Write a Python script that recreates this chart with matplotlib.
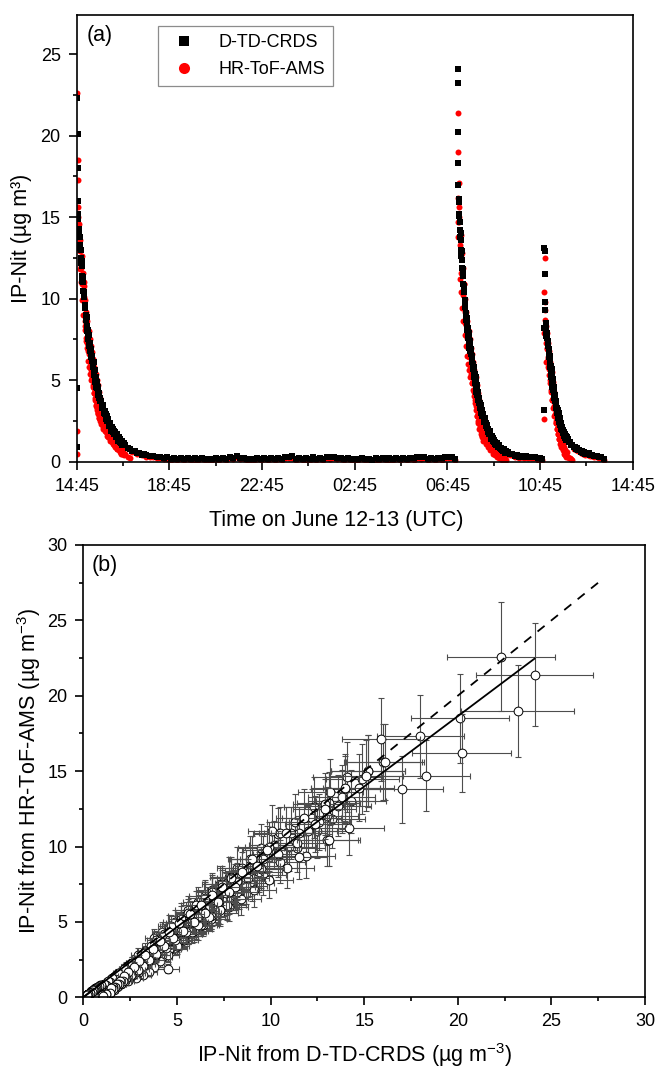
import numpy as np
import matplotlib
matplotlib.use('Agg')
import matplotlib.pyplot as plt
from matplotlib.ticker import MultipleLocator, FixedLocator, FixedFormatter
from matplotlib.lines import Line2D

plt.rcParams['font.family'] = ['Liberation Sans', 'DejaVu Sans']
plt.rcParams['mathtext.fontset'] = 'custom'
plt.rcParams['mathtext.rm'] = 'Liberation Sans'
plt.rcParams['mathtext.it'] = 'Liberation Sans:italic'
plt.rcParams['mathtext.bf'] = 'Liberation Sans:bold'

# ---------------- DATA ----------------
# time axis: hours after 14:45 UTC (June 12)
time_tick_pos = [0, 4, 8, 12, 16, 20, 24]
time_tick_labels = ["14:45", "18:45", "22:45", "02:45", "06:45", "10:45", "14:45"]

# peak 1 (starts 14:45)
p1_head_t = [0.000, 0.015, 0.030, 0.040, 0.050, 0.060, 0.068]
p1_head_crds = [0.9, 4.5, 22.3, 20.1, 18.0, 16.0, 15.2]
p1_head_ams = [0.5, 1.9, 22.6, 18.5, 17.3, 15.6, 15.0]

p1a_grid = (0.075, 0.025)
p1a_crds = [14.9, 14.0, 13.8, 13.1, 13.0, 12.2, 12.0, 11.1, 11.0, 10.2,
            10.1, 9.4, 9.5, 8.7, 8.9, 8.0, 8.1, 7.5, 7.8, 7.1,
            7.2, 6.6, 6.9, 6.2, 6.4, 5.8, 6.1, 5.3, 5.6, 4.9,
            5.1, 4.6, 4.9, 4.3, 4.5, 3.9, 4.2, 3.7]
p1a_ams = [14.5, 13.8, 13.0, 12.9, 12.0, 11.9, 11.0, 10.9, 10.0, 10.1,
           11.0, 8.3, 8.6, 7.4, 8.0, 7.3, 7.2, 6.8, 6.6, 6.2,
           6.1, 5.7, 5.6, 5.2, 5.1, 4.7, 4.5, 4.2, 4.2, 3.8,
           3.7, 3.4, 3.3, 3.0, 3.0, 2.7, 2.7, 2.5]
p1a_mid_grid = (0.0875, 0.025)
p1a_mid_crds = [14.3, 14.1, 13.3, 13.2, 12.5, 12.3, 11.4, 11.3, 10.5, 10.4,
                9.6, 9.5, 9.0, 8.9, 8.3, 8.2, 7.7, 7.8, 7.2, 7.3,
                6.8, 6.9, 6.4, 6.5, 6.0, 6.1, 5.6, 5.6, 5.1, 5.2,
                4.7, 4.9, 4.5, 4.6, 4.1, 4.2, 3.9, 3.8]
p1a_mid_ams = [13.0, 14.6, 11.8, 13.6, 11.0, 12.6, 9.9, 11.6, 9.0, 10.8,
               8.1, 9.9, 7.6, 9.2, 7.0, 8.6, 6.2, 8.0, 5.8, 7.5,
               5.4, 7.1, 5.0, 6.7, 4.6, 6.3, 4.2, 5.8, 3.9, 5.4,
               3.5, 5.0, 3.2, 4.7, 2.9, 4.3, 2.6, 3.9]

p1b_grid = (1.05, 0.05)
p1b_crds = [3.7, 3.3, 3.3, 2.9, 2.9, 2.5, 2.6, 2.2, 2.2, 1.9,
            2.0, 1.7, 1.8, 1.5, 1.6, 1.3, 1.4, 1.15, 1.25, 1.0]
p1b_ams = [2.3, 2.6, 2.0, 2.4, 1.8, 2.1, 1.5, 1.9, 1.3, 1.5,
           1.1, 1.4, 0.9, 1.2, 0.8, 1.0, 0.6, 0.9, 0.5, 0.7]
p1b_mid_grid = (1.075, 0.05)
p1b_mid_crds = [3.4, 3.5, 3.0, 3.1, 2.6, 2.8, 2.3, 2.4, 2.0, 2.1,
                1.8, 1.9, 1.6, 1.7, 1.4, 1.5, 1.2, 1.3, 1.05, 1.15]
p1b_mid_ams = [2.9, 2.1, 2.6, 1.9, 2.3, 1.6, 2.0, 1.4, 1.7, 1.2,
               1.5, 1.0, 1.3, 0.8, 1.1, 0.7, 0.9, 0.5, 0.8, 0.4]

p1c_grid = (2.1, 0.1)
p1c_crds = [1.0, 0.82, 0.8, 0.64, 0.66, 0.52, 0.55, 0.42, 0.46]
p1c_ams = [0.45, 0.3, 0.2, 0.61, 0.62, 0.49, 0.52, 0.39, 0.43]

# night-time background
bg_grid = (3.0, 0.15)
bg_crds = [0.42, 0.34, 0.36, 0.27, 0.30, 0.22, 0.26, 0.19, 0.24, 0.17,
           0.22, 0.16, 0.21, 0.14, 0.20, 0.17, 0.22, 0.15, 0.19, 0.14,
           0.21, 0.17, 0.23, 0.19, 0.27, 0.25, 0.34, 0.24, 0.22, 0.15,
           0.19, 0.14, 0.23, 0.18, 0.22, 0.15, 0.22, 0.19, 0.25, 0.18,
           0.30, 0.27, 0.33, 0.19, 0.23, 0.15, 0.20, 0.16, 0.26, 0.19,
           0.23, 0.19, 0.28, 0.26, 0.31, 0.21, 0.25, 0.17, 0.21, 0.15,
           0.19, 0.14, 0.22, 0.16, 0.19, 0.13, 0.20, 0.16, 0.23, 0.15,
           0.20, 0.16, 0.24, 0.17, 0.21, 0.15, 0.23, 0.20, 0.29, 0.26,
           0.31, 0.19, 0.23, 0.16, 0.25, 0.20, 0.31, 0.27, 0.30, 0.18]
bg_ams = [0.30, 0.26, 0.28, 0.20, 0.22, 0.15, 0.19, 0.12, 0.17, 0.10,
          0.15, 0.10, 0.14, 0.08, 0.13, 0.10, 0.15, 0.09, 0.12, 0.08,
          0.14, 0.10, 0.16, 0.12, 0.20, 0.18, 0.26, 0.17, 0.15, 0.09,
          0.12, 0.08, 0.16, 0.11, 0.15, 0.09, 0.15, 0.12, 0.18, 0.11,
          0.23, 0.20, 0.25, 0.12, 0.16, 0.09, 0.13, 0.10, 0.19, 0.12,
          0.16, 0.12, 0.21, 0.19, 0.24, 0.14, 0.18, 0.10, 0.14, 0.09,
          0.12, 0.08, 0.15, 0.09, 0.12, 0.07, 0.13, 0.09, 0.16, 0.09,
          0.13, 0.10, 0.17, 0.10, 0.14, 0.09, 0.16, 0.13, 0.22, 0.19,
          0.24, 0.12, 0.16, 0.10, 0.18, 0.13, 0.24, 0.20, 0.23, 0.12]

# peak 2 (~07:13)
p2_head_t = [16.44, 16.45, 16.46, 16.47, 16.48, 16.49, 16.50, 16.51, 16.52]
p2_head_crds = [24.1, 23.2, 20.2, 18.3, 17.0, 15.9, 16.1, 15.2, 15.1]
p2_head_ams = [21.4, 19.0, 16.2, 14.7, 13.8, 17.1, 15.6, 15.0, 14.7]

p2a_grid = (16.53, 0.025)
p2a_crds = [14.7, 13.8, 13.6, 12.6, 12.4, 11.5, 11.4, 10.5, 10.4, 9.6,
            9.5, 8.7, 8.8, 8.1, 8.2, 7.6, 7.7, 7.0, 7.2, 6.6,
            6.8, 6.1, 6.3, 5.7, 5.8, 5.2, 5.4, 4.8, 5.0, 4.3,
            4.5, 3.9, 4.1, 3.6, 3.8, 3.3, 3.5, 3.0, 3.2, 2.8]
p2a_ams = [13.9, 13.3, 12.7, 11.6, 11.5, 10.9, 10.2, 10.9, 9.5, 9.2,
           8.5, 8.4, 7.9, 7.6, 7.0, 7.1, 6.5, 6.4, 5.9, 5.9,
           5.4, 5.3, 4.8, 4.9, 4.3, 4.4, 3.8, 4.0, 3.4, 3.6,
           2.8, 3.0, 2.4, 2.7, 2.0, 2.4, 1.7, 2.1, 1.5, 1.8]
p2a_mid_grid = (16.5425, 0.025)
p2a_mid_crds = [14.2, 14.0, 13.0, 12.9, 11.9, 11.8, 10.9, 10.8, 9.9, 9.9,
                9.1, 9.0, 8.4, 8.5, 7.8, 7.9, 7.3, 7.4, 6.8, 6.9,
                6.4, 6.5, 5.9, 6.0, 5.4, 5.6, 5.0, 5.2, 4.6, 4.7,
                4.1, 4.3, 3.8, 3.9, 3.4, 3.6, 3.1, 3.3, 2.9, 2.9]
p2a_mid_ams = [11.2, 13.9, 10.4, 12.8, 9.4, 11.9, 8.6, 10.9, 7.8, 10.0,
               7.1, 9.2, 6.5, 8.6, 6.0, 8.0, 5.6, 7.5, 5.2, 7.0,
               4.8, 6.6, 4.4, 6.1, 4.0, 5.6, 3.6, 5.2, 3.2, 4.7,
               2.8, 4.2, 2.5, 3.8, 2.2, 3.4, 1.9, 3.1, 1.6, 2.8]

p2b_grid = (17.55, 0.05)
p2b_crds = [2.8, 2.45, 2.4, 2.05, 2.0, 1.7, 1.7, 1.42, 1.45, 1.2,
            1.22, 1.0, 1.05, 0.88, 0.9, 0.76, 0.8, 0.65, 0.7, 0.56]
p2b_ams = [1.3, 1.6, 1.1, 1.4, 0.9, 1.2, 0.7, 1.0, 0.5, 0.8,
           0.4, 0.6, 0.3, 0.5, 0.2, 0.35, 0.12, 0.25, 0.08, 0.15]
p2b_mid_grid = (17.575, 0.05)
p2b_mid_crds = [2.6, 2.65, 2.2, 2.25, 1.85, 1.9, 1.55, 1.6, 1.3, 1.35,
                1.1, 1.15, 0.95, 1.0, 0.82, 0.86, 0.72, 0.75, 0.62, 0.66]
p2b_mid_ams = [2.3, 1.5, 1.9, 1.2, 1.6, 1.0, 1.3, 0.8, 1.1, 0.6,
               0.9, 0.5, 0.7, 0.35, 0.55, 0.25, 0.45, 0.15, 0.4, 0.1]

p2c_grid = (18.6, 0.1)
p2c_crds = [0.58, 0.47, 0.48, 0.37, 0.4, 0.3, 0.34, 0.28, 0.38, 0.27,
            0.31, 0.29, 0.3, 0.2, 0.21, 0.14]
p2c_ams = [0.5, 0.39, 0.4, 0.3, 0.32, 0.23, 0.27, 0.2, 0.3, 0.2,
           0.24, 0.21, 0.22, 0.13, 0.14, 0.08]

# peak 3 (~10:57)
p3_head_t = [20.17, 20.18, 20.19, 20.20, 20.21, 20.22, 20.23, 20.24, 20.25]
p3_head_crds = [3.2, 8.2, 13.1, 12.9, 11.5, 9.8, 9.3, 8.5, 8.2]
p3_head_ams = [2.6, 7.9, 10.4, 12.5, 9.3, 9.8, 8.7, 8.3, 7.7]

p3a_grid = (20.26, 0.025)
p3a_crds = [8.1, 7.6, 7.8, 7.1, 7.2, 6.4, 6.5, 5.8, 5.9, 5.2,
            5.3, 4.6, 4.8, 4.1, 4.3, 3.7, 3.9, 3.3, 3.5, 3.0,
            3.2, 2.7, 2.9, 2.45, 2.55, 2.15, 2.3, 1.95, 2.1, 1.75,
            1.9, 1.6, 1.7, 1.45, 1.6, 1.35]
p3a_ams = [7.3, 6.9, 7.0, 6.4, 6.3, 5.7, 5.6, 5.0, 5.0, 4.4,
           4.4, 3.8, 3.9, 3.3, 3.4, 2.8, 2.9, 2.4, 2.5, 2.0,
           2.1, 1.7, 1.8, 1.4, 1.5, 1.2, 1.3, 1.0, 1.1, 0.8,
           0.9, 0.65, 0.7, 0.5, 0.55, 0.4]
p3a_mid_grid = (20.2725, 0.025)
p3a_mid_crds = [7.7, 7.9, 7.3, 7.4, 6.7, 6.9, 6.1, 6.3, 5.5, 5.7,
                4.9, 5.1, 4.4, 4.6, 3.9, 4.1, 3.5, 3.7, 3.1, 3.3,
                2.8, 3.0, 2.55, 2.7, 2.25, 2.4, 2.0, 2.15, 1.8, 1.95,
                1.65, 1.8, 1.5, 1.6, 1.4, 1.5]
p3a_mid_ams = [6.1, 7.9, 5.8, 7.3, 5.3, 6.8, 4.8, 6.1, 4.3, 5.5,
               3.8, 4.9, 3.3, 4.3, 2.8, 3.7, 2.4, 3.2, 2.0, 2.8,
               1.7, 2.4, 1.4, 2.0, 1.1, 1.7, 0.9, 1.4, 0.7, 1.1,
               0.5, 0.9, 0.4, 0.7, 0.3, 0.6]

p3b_grid = (21.2, 0.05)
p3b_crds = [1.4, 1.2, 1.22, 1.0, 1.04, 0.88, 0.92, 0.77, 0.82, 0.7,
            0.74, 0.62, 0.67, 0.56, 0.61, 0.5, 0.56, 0.46, 0.51, 0.42]
p3b_ams = [0.3, 0.25, 0.2, 0.15, 0.1, 0.8, 0.84, 0.7, 0.74, 0.63,
           0.67, 0.55, 0.6, 0.5, 0.54, 0.44, 0.5, 0.4, 0.45, 0.36]

p3c_grid = (22.25, 0.1)
p3c_crds = [0.44, 0.35, 0.36, 0.26, 0.26, 0.18]
p3c_ams = [0.38, 0.29, 0.3, 0.2, 0.2, 0.12]

# panel (b) uncertainty and fit
crds_rel_unc = 0.13
ams_rel_unc = 0.16
fit_slope = 0.932
fit_intercept = 0.0
one_to_one_end = 27.5

# ---------------- ASSEMBLY ----------------
def grid_times(grid, n):
    start, step = grid
    return start + step * np.arange(n)

segments = [
    (np.array(p1_head_t), p1_head_crds, p1_head_ams),
    (p1a_grid, p1a_crds, p1a_ams),
    (p1a_mid_grid, p1a_mid_crds, p1a_mid_ams),
    (p1b_grid, p1b_crds, p1b_ams),
    (p1b_mid_grid, p1b_mid_crds, p1b_mid_ams),
    (p1c_grid, p1c_crds, p1c_ams),
    (bg_grid, bg_crds, bg_ams),
    (np.array(p2_head_t), p2_head_crds, p2_head_ams),
    (p2a_grid, p2a_crds, p2a_ams),
    (p2a_mid_grid, p2a_mid_crds, p2a_mid_ams),
    (p2b_grid, p2b_crds, p2b_ams),
    (p2b_mid_grid, p2b_mid_crds, p2b_mid_ams),
    (p2c_grid, p2c_crds, p2c_ams),
    (np.array(p3_head_t), p3_head_crds, p3_head_ams),
    (p3a_grid, p3a_crds, p3a_ams),
    (p3a_mid_grid, p3a_mid_crds, p3a_mid_ams),
    (p3b_grid, p3b_crds, p3b_ams),
    (p3c_grid, p3c_crds, p3c_ams),
]
T, C, A = [], [], []
for tt, cc, aa in segments:
    n = min(len(cc), len(aa))
    if isinstance(tt, tuple):
        tt = grid_times(tt, n)
    n = min(n, len(tt))
    T.append(np.asarray(tt[:n], float))
    C.append(np.asarray(cc[:n], float))
    A.append(np.asarray(aa[:n], float))
T = np.concatenate(T); C = np.concatenate(C); A = np.concatenate(A)
order = np.argsort(T, kind='stable')
T, C, A = T[order], C[order], A[order]

# ---------------- FIGURE ----------------
fig = plt.figure(figsize=(6.59, 10.69), dpi=100)

LABEL_FS = 15.5
TICK_FS = 13
SPINE_LW = 1.2

def style_axes(ax):
    for s in ax.spines.values():
        s.set_linewidth(SPINE_LW)
    ax.tick_params(which='both', direction='out', top=False, right=False,
                   width=SPINE_LW, labelsize=TICK_FS)
    ax.tick_params(which='major', length=5.5, pad=6)
    ax.tick_params(which='minor', length=3)

# ---- panel (a) ----
ax1 = fig.add_axes([0.1164, 0.5681, 0.8437, 0.4179])
ax1.plot(T, A, 'o', ls='none', color='#ff0000', ms=4.3, mew=0, zorder=2)
ax1.plot(T, C, 's', ls='none', color='black', ms=4.0, mew=0, zorder=3)
ax1.set_xlim(0, 24)
ax1.set_ylim(0, 27.4)
ax1.xaxis.set_major_locator(FixedLocator(time_tick_pos))
ax1.xaxis.set_major_formatter(FixedFormatter(time_tick_labels))
ax1.xaxis.set_minor_locator(MultipleLocator(2))
ax1.yaxis.set_major_locator(MultipleLocator(5))
ax1.yaxis.set_minor_locator(MultipleLocator(2.5))
style_axes(ax1)
ax1.set_xlabel('Time on June 12-13 (UTC)', fontsize=LABEL_FS)
ax1.set_ylabel('IP-Nit (µg m³)', fontsize=LABEL_FS)
ax1.xaxis.set_label_coords(0.4676, -0.109)
ax1.yaxis.set_label_coords(-0.080, 0.5)
ax1.text(0.018, 0.978, '(a)', transform=ax1.transAxes, ha='left', va='top',
         fontsize=15.5)
handles = [Line2D([], [], marker='s', ls='none', color='black', ms=7.2, mew=0),
           Line2D([], [], marker='o', ls='none', color='#ff0000', ms=8.0, mew=0)]
leg = ax1.legend(handles, ['D-TD-CRDS', 'HR-ToF-AMS'], loc='upper left',
                 bbox_to_anchor=(0.1457, 0.9754), borderaxespad=0,
                 fontsize=13, frameon=True, fancybox=False, framealpha=1,
                 edgecolor='0.55', handlelength=2.0, handletextpad=0.9,
                 labelspacing=0.55, borderpad=0.45)
leg.get_frame().set_linewidth(0.9)

# ---- panel (b) ----
ax2 = fig.add_axes([0.1264, 0.0671, 0.8524, 0.4231])
# each point: its error bars, then its open circle (drawn in time order)
for xi, yi in zip(C, A):
    ax2.errorbar([xi], [yi], xerr=[crds_rel_unc * xi], yerr=[ams_rel_unc * yi],
                 fmt='none', ecolor='0.3', elinewidth=0.8, capsize=2.5,
                 capthick=0.8, zorder=2)
    ax2.plot([xi], [yi], 'o', ls='none', mfc='white', mec='black', ms=6.3,
             mew=0.7, zorder=2)
xfit = np.array([0.0, C.max()])
ax2.plot(xfit, fit_intercept + fit_slope * xfit, '-', color='black', lw=1.3, zorder=4)
ax2.plot([0, one_to_one_end], [0, one_to_one_end], color='black', lw=1.3,
         dashes=(5, 4.5), zorder=4)
ax2.set_xlim(0, 30)
ax2.set_ylim(0, 30)
ax2.xaxis.set_major_locator(MultipleLocator(5))
ax2.xaxis.set_minor_locator(MultipleLocator(2.5))
ax2.yaxis.set_major_locator(MultipleLocator(5))
ax2.yaxis.set_minor_locator(MultipleLocator(2.5))
style_axes(ax2)
ax2.set_xlabel('IP-Nit from D-TD-CRDS (µg m$^{-3}$)', fontsize=LABEL_FS)
ax2.set_ylabel('IP-Nit from HR-ToF-AMS (µg m$^{-3}$)', fontsize=LABEL_FS)
ax2.xaxis.set_label_coords(0.4837, -0.097)
ax2.yaxis.set_label_coords(-0.072, 0.5)
ax2.text(0.015, 0.978, '(b)', transform=ax2.transAxes, ha='left', va='top',
         fontsize=15.5)

fig.savefig('out.png', dpi=100)
